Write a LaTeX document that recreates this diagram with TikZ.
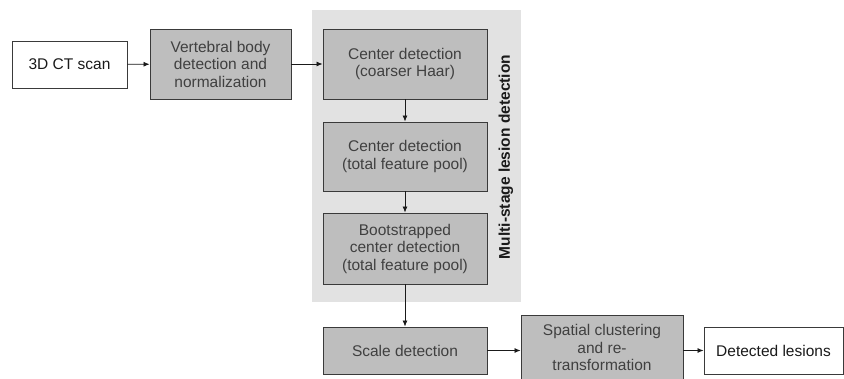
\documentclass[tikz,border=0pt]{standalone}
\usepackage{fontspec}
\setmainfont{Liberation Sans}
\usepackage{xcolor}
\usetikzlibrary{arrows.meta,positioning}
\definecolor{boxfill}{HTML}{BEBEBE}
\definecolor{panelfill}{HTML}{E2E2E2}
\definecolor{boxline}{HTML}{3A3A3A}
\definecolor{boxtext}{HTML}{404040}
\definecolor{iotext}{HTML}{1A1A1A}

\begin{document}
\begin{tikzpicture}[
  x=1pt, y=-1pt,
  font=\fontsize{15.5}{17.5}\selectfont,
  stage/.style={draw=boxline, fill=boxfill, text=boxtext, align=center, line width=0.9pt, inner sep=0pt, minimum width=164pt},
  io/.style={draw=boxline, fill=white, text=iotext, align=center, line width=0.9pt, inner sep=0pt, minimum height=47pt},
  flow/.style={-{Latex[length=6pt,width=5pt]}, line width=0.8pt, draw=iotext}
]
\useasboundingbox (0,0) rectangle (844,378);
\clip (0,0) rectangle (844,378);
\fill[white] (0,0) rectangle (844,378);
\fill[panelfill] (312,10) rectangle (521,302);
\node[io, minimum width=115pt] (ct) at (69.5,64.5) {3D CT scan};
\node[stage, minimum width=141pt, minimum height=70pt] (vbd) at (220.5,64) {Vertebral body\\detection and\\normalization};
\node[stage, minimum height=70pt] (cd1) at (405,64) {Center detection\\(coarser Haar)};
\node[stage, minimum height=69pt] (cd2) at (405,156.5) {Center detection\\(total feature pool)};
\node[stage, minimum height=71pt] (cd3) at (405,248.5) {Bootstrapped\\center detection\\(total feature pool)};
\node[stage, minimum height=47pt] (scl) at (405,350.5) {Scale detection};
\node[stage, minimum width=162pt, minimum height=65pt] (clus) at (602,347.5) {Spatial clustering\\and re-\\transformation};
\node[io, minimum width=139pt] (out) at (773.5,350.5) {Detected lesions};
\node[rotate=90, font=\fontsize{15.5}{17.5}\selectfont\bfseries, text=iotext] (lbl) at (506,157) {Multi-stage lesion detection};
\draw[flow] (ct) -- (vbd);
\draw[flow] (vbd) -- (cd1);
\foreach \a/\b in {cd1/cd2,cd2/cd3,cd3/scl}{\draw[flow] (\a) -- (\b);}
\draw[flow] (scl) -- (scl -| clus.west);
\draw[flow] (clus.east |- out) -- (out);
\end{tikzpicture}
\end{document}
